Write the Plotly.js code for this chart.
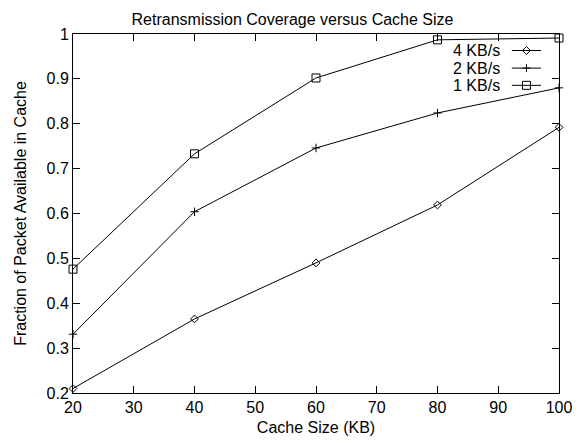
<!DOCTYPE html>
<html>
<head>
<meta charset="utf-8">
<script src="https://cdn.plot.ly/plotly-3.0.1.min.js"></script>
<style>
  html, body { margin: 0; padding: 0; background: #fff; }
  #chart { width: 585px; height: 440px; }
</style>
</head>
<body>
<div id="chart"></div>
<script>
// Cache size in KB
const cacheSize = [20, 40, 60, 80, 100];

// Fraction of packets still available in the cache, per sending rate
const rate4 = [0.21, 0.365, 0.49, 0.619, 0.792];
const rate2 = [0.331, 0.604, 0.746, 0.824, 0.880];
const rate1 = [0.476, 0.733, 0.902, 0.987, 0.991];

const seriesNames = ['4 KB/s', '2 KB/s', '1 KB/s'];
const seriesValues = [rate4, rate2, rate1];
const seriesSymbols = ['diamond-open', 'cross-thin-open', 'square-open'];
const seriesSizes = [6, 6, 8];

const xTicks = [20, 30, 40, 50, 60, 70, 80, 90, 100];
const yTicks = [0.2, 0.3, 0.4, 0.5, 0.6, 0.7, 0.8, 0.9, 1];

const FONT = 'Liberation Sans, Arial, Helvetica, sans-serif';
const FS = 16;

const traces = seriesValues.map((vals, i) => ({
  x: cacheSize,
  y: vals,
  name: seriesNames[i],
  type: 'scatter',
  mode: 'lines+markers',
  line: { color: '#000', width: 1 },
  marker: {
    symbol: seriesSymbols[i],
    size: seriesSizes[i],
    color: '#000',
    line: { color: '#000', width: 1 }
  },
  cliponaxis: false,
  showlegend: false
}));

// Key in the top-right corner: label, then a sample line with its marker
const keyTextX = 0.883;
const keyLineX0 = 0.903;
const keyLineX1 = 0.963;
const keyMarkX = 0.933;
const keyRowsY = [0.954, 0.905, 0.857];

const annotations = [];
const shapes = [];
seriesNames.forEach((name, i) => {
  const yy = keyRowsY[i];
  annotations.push({
    xref: 'paper', yref: 'paper', x: keyTextX, y: yy,
    xanchor: 'right', yanchor: 'middle', showarrow: false,
    text: name, font: { family: FONT, size: FS, color: '#000' }
  });
  shapes.push({
    type: 'line', xref: 'paper', yref: 'paper',
    x0: keyLineX0, x1: keyLineX1, y0: yy, y1: yy,
    line: { color: '#000', width: 1 }
  });
  let path;
  if (i === 0) path = 'M-4,0L0,-4L4,0L0,4Z';
  else if (i === 1) path = 'M-4,0L4,0M0,-4L0,4';
  else path = 'M-4,-4L4,-4L4,4L-4,4Z';
  shapes.push({
    type: 'path', xref: 'paper', yref: 'paper',
    xsizemode: 'pixel', ysizemode: 'pixel',
    xanchor: keyMarkX, yanchor: yy,
    path: path,
    line: { color: '#000', width: 1 },
    fillcolor: 'rgba(0,0,0,0)'
  });
});

const axisCommon = {
  showgrid: false,
  zeroline: false,
  showline: true,
  linecolor: '#000',
  linewidth: 1,
  mirror: 'ticks',
  ticks: 'inside',
  ticklen: 7,
  tickwidth: 1,
  tickcolor: '#000',
  tickfont: { family: FONT, size: FS, color: '#000' }
};

const layout = {
  width: 585,
  height: 440,
  margin: { l: 73, r: 26, t: 34, b: 47 },
  paper_bgcolor: '#fff',
  plot_bgcolor: '#fff',
  font: { family: FONT, color: '#000' },
  title: {
    text: 'Retransmission Coverage versus Cache Size',
    font: { family: FONT, size: FS, color: '#000' },
    x: 0.5, xref: 'container', xanchor: 'center', y: 0.955, yanchor: 'middle'
  },
  xaxis: Object.assign({}, axisCommon, {
    range: [20, 100],
    tickvals: xTicks,
    ticktext: xTicks.map(String),
    title: { text: 'Cache Size (KB)', font: { family: FONT, size: FS, color: '#000' }, standoff: 6 }
  }),
  yaxis: Object.assign({}, axisCommon, {
    range: [0.2, 1],
    tickvals: yTicks,
    ticktext: yTicks.map(String),
    title: { text: 'Fraction of Packet Available in Cache', font: { family: FONT, size: FS, color: '#000' }, standoff: 15 }
  }),
  annotations: annotations,
  shapes: shapes,
  showlegend: false
};

Plotly.newPlot('chart', traces, layout, { displayModeBar: false, staticPlot: true });
</script>
</body>
</html>
